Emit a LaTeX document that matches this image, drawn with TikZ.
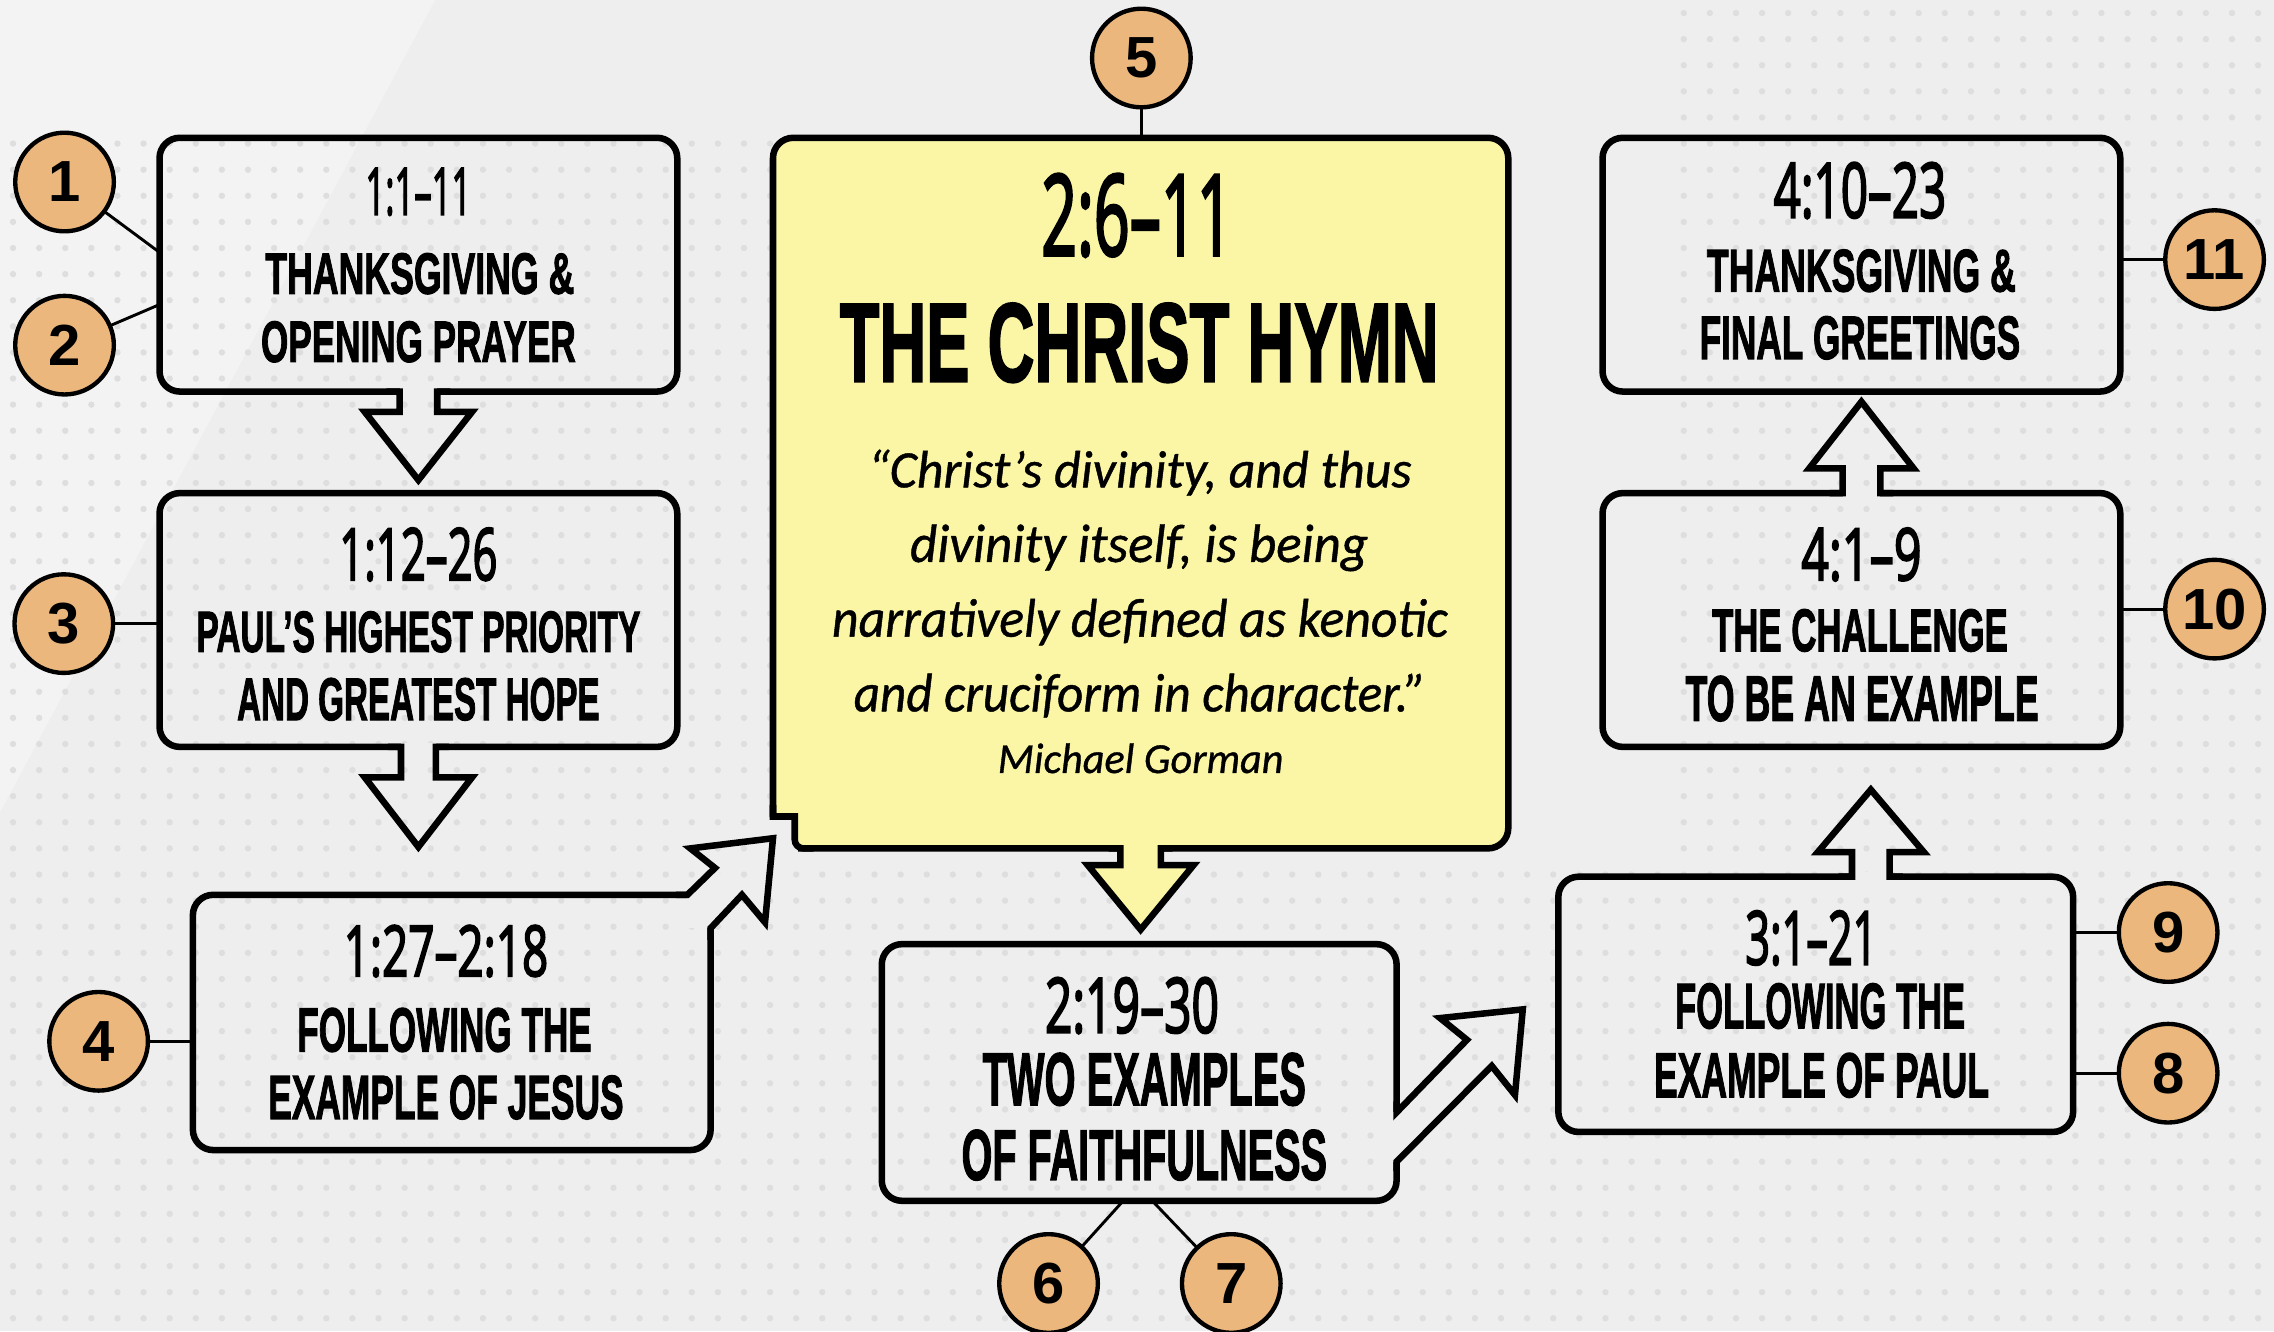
\documentclass[tikz,border=0pt]{standalone}
\usepackage{fontspec}
\usepackage{graphicx}
\usetikzlibrary{calc}
\newfontfamily\capsfont[FakeBold=2]{Liberation Sans}
\newfontfamily\numfont[FakeBold=3]{Open Sans}
\newfontfamily\quotefont[FakeBold=0.8]{Carlito}
\newfontfamily\circfont{Liberation Sans}
\definecolor{bgcol}{HTML}{EEEEEE}
\definecolor{dotcol}{HTML}{DEDEDE}
\definecolor{hymncol}{HTML}{FAF6A6}
\definecolor{badgecol}{HTML}{ECB77C}
\newcommand\fitnum[3]{\resizebox{#1pt}{#2pt}{\numfont #3}}
\newcommand\fitcap[3]{\resizebox{#1pt}{#2pt}{\capsfont\bfseries #3}}
\newcommand\fitquote[3]{\resizebox{#1pt}{#2pt}{\quotefont\itshape\fontsize{35}{35}\selectfont #3}}
\begin{document}
\begin{tikzpicture}[x=1pt,y=-1pt,
  frame/.style={draw=black,line width=4.5pt,rounded corners=14pt,inner sep=0pt,outer sep=0pt},
  arrowline/.style={draw=black,line width=4.5pt,line join=miter},
  badge/.style={circle,draw=black,line width=3pt,fill=badgecol,minimum size=68pt,inner sep=0pt,outer sep=0pt,font=\circfont\bfseries\fontsize{40}{40}\selectfont},
  link/.style={draw=black,line width=2pt},
  txt/.style={anchor=base,inner sep=0pt,outer sep=0pt}]
% background
\useasboundingbox (0,0) rectangle (1568,918);
\fill[bgcol] (0,0) rectangle (1568,918);
\fill[white,opacity=0.35] (0,0) -- (300,0) -- (0,560) -- cycle;
\foreach \x in {9,27,...,531} \foreach \y in {99,117,...,909} \fill[dotcol] (\x,\y) circle[radius=2.2pt];
\foreach \x in {549,567,...,1143} \foreach \y in {603,621,...,909} \fill[dotcol] (\x,\y) circle[radius=2.2pt];
\foreach \x in {1161,1179,...,1557} \foreach \y in {9,27,...,909} \fill[dotcol] (\x,\y) circle[radius=2.2pt];
% boxes
\node[frame,fill=hymncol,minimum width=507pt,minimum height=490pt] (Y) at (786.5,340) {};
\node[frame,minimum width=357pt,minimum height=175pt] (A) at (288.5,182.5) {};
\node[frame,minimum width=357pt,minimum height=175pt] (B) at (288.5,427.5) {};
\node[frame,minimum width=357pt,minimum height=176pt] (C) at (311.5,705) {};
\node[frame,minimum width=355pt,minimum height=177pt] (D) at (785.5,739.5) {};
\node[frame,minimum width=355pt,minimum height=176pt] (E) at (1252,692.5) {};
\node[frame,minimum width=357pt,minimum height=175pt] (F) at (1283.5,427.5) {};
\node[frame,minimum width=357pt,minimum height=175pt] (G) at (1283.5,182.5) {};
% notch of the hymn box
\begin{scope}[shift={(Y.south west)}]
 \fill[bgcol] (-4,-22) rectangle (17.25,5);
 \draw[arrowline] (0,-30) -- (0,-22) -- (15,-22) -- (15,-6) .. controls (15,-2.7) and (17.7,0) .. (21,0) -- (28,0);
\end{scope}
% A -> B
\begin{scope}[shift={(A.south)}]
 \fill[bgcol] (-13,-3) rectangle (13,3);
 \draw[arrowline] (-22,0) -- (-13,0) -- (-13,14) -- (-37,14) -- (0,61) -- (37,14) -- (13,14) -- (13,0) -- (22,0);
\end{scope}
% B -> C
\begin{scope}[shift={(B.south)}]
 \fill[bgcol] (-12,-3) rectangle (12,3);
 \draw[arrowline] (-21,0) -- (-12,0) -- (-12,21) -- (-37,21) -- (0,69) -- (37,21) -- (12,21) -- (12,0) -- (21,0);
\end{scope}
% C -> Y
\begin{scope}[shift={(C.north east)}]
 \fill[bgcol] (-16,-2) rectangle (0,23);
 \fill[bgcol] (-16,0) -- (3,-18.5) -- (21.6,0) -- (0,23) -- cycle;
 \draw[arrowline] (-24,0) -- (-16,0) -- (3,-18.5) -- (-14,-32) -- (43,-39) -- (37.5,19) -- (21.6,0) -- (0,23) -- (0,31);
\end{scope}
% Y -> D
\begin{scope}[shift={(Y.south)}]
 \fill[hymncol] (-14,-3) rectangle (14,3);
 \draw[arrowline,fill=hymncol] (-22,0) -- (-14,0) -- (-14,11.5) -- (-36.5,11.5) -- (0,56) -- (36.5,11.5) -- (14,11.5) -- (14,0) -- (22,0);
\end{scope}
% D -> E
\begin{scope}[shift={(D.east)}]
 \fill[bgcol] (-3,27.5) rectangle (3,61.5);
 \draw[arrowline] (0,20) -- (0,27.5) -- (48.5,-22.5) -- (30,-37.5) -- (87,-43.5) -- (81.6,15.5) -- (65.6,-4.5) -- (0,61.5) -- (0,68);
\end{scope}
% E -> F
\begin{scope}[shift={(E.north)}]
 \fill[bgcol] (25,-3) rectangle (51,3);
 \draw[arrowline] (16,0) -- (25,0) -- (25,-17) -- (1.5,-17) -- (38,-60) -- (74.5,-17) -- (51,-17) -- (51,0) -- (60,0);
\end{scope}
% F -> G
\begin{scope}[shift={(F.north)}]
 \fill[bgcol] (-13,-3) rectangle (13,3);
 \draw[arrowline] (-22,0) -- (-13,0) -- (-13,-17) -- (-36,-17) -- (0,-63) -- (36,-17) -- (13,-17) -- (13,0) -- (22,0);
\end{scope}
% texts
\node[txt] (A0) at (288.5,148) {\fitnum{73}{32}{1:1–11}};
\node[txt] (A1) at (289.5,202.5) {\fitcap{213}{28}{THANKSGIVING \&}};
\node[txt] (A2) at (288.5,249.5) {\fitcap{217}{28}{OPENING PRAYER}};
\node[txt] (B0) at (288.5,400) {\fitnum{109}{36}{1:12–26}};
\node[txt] (B1) at (288.5,449.5) {\fitcap{306}{28}{PAUL’S HIGHEST PRIORITY}};
\node[txt] (B2) at (288.5,496.5) {\fitcap{250}{29}{AND GREATEST HOPE}};
\node[txt] (C0) at (307.5,673) {\fitnum{141}{35}{1:27–2:18}};
\node[txt] (C1) at (306.5,725) {\fitcap{203}{30}{FOLLOWING THE}};
\node[txt] (C2) at (307.5,771.5) {\fitcap{245}{30}{EXAMPLE OF JESUS}};
\node[txt] (Y0) at (784,176) {\fitnum{132}{56}{2:6–11}};
\node[txt] (Y1) at (785.5,263) {\fitcap{413}{54}{THE CHRIST HYMN}};
\node[txt] (Q1) at (786,336) {\fitquote{375}{26}{“Christ’s divinity, and thus}};
\node[txt] (Q2) at (785.5,387.5) {\fitquote{316}{26}{divinity itself, is being}};
\node[txt] (Q3) at (786,439) {\fitquote{424.6}{26}{narratively defined as kenotic}};
\node[txt] (Q4) at (786,490.5) {\fitquote{394.6}{26}{and cruciform in character.”}};
\node[txt] (Q5) at (786.5,533) {\fitquote{197}{20.5}{Michael Gorman}};
\node[txt] (D0) at (780.5,712) {\fitnum{120}{38}{2:19–30}};
\node[txt] (D1) at (789,762) {\fitcap{223}{36}{TWO EXAMPLES}};
\node[txt] (D2) at (789,813.5) {\fitcap{252}{34.5}{OF FAITHFULNESS}};
\node[txt] (E0) at (1249,665) {\fitnum{91}{37}{3:1–21}};
\node[txt] (E1) at (1255,709) {\fitcap{200}{31}{FOLLOWING THE}};
\node[txt] (E2) at (1256,756.5) {\fitcap{231}{30.5}{EXAMPLE OF PAUL}};
\node[txt] (F0) at (1283.5,400) {\fitnum{83}{36}{4:1–9}};
\node[txt] (F1) at (1282.5,449) {\fitcap{204}{29}{THE CHALLENGE}};
\node[txt] (F2) at (1284,497) {\fitcap{243.5}{31}{TO BE AN EXAMPLE}};
\node[txt] (G0) at (1282.5,150) {\fitnum{119}{38}{4:10–23}};
\node[txt] (G1) at (1283.5,201) {\fitcap{213}{29}{THANKSGIVING \&}};
\node[txt] (G2) at (1282.5,247.5) {\fitcap{221}{29.5}{FINAL GREETINGS}};
% numbered badges
\node[badge] (n1) at (44.5,125.5) {1};
\node[badge] (n2) at (44.5,238) {2};
\node[badge] (n3) at (44,430) {3};
\node[badge] (n4) at (68,718) {4};
\node[badge] (n5) at (787,40) {5};
\node[badge] (n6) at (723,885) {6};
\node[badge] (n7) at (849,885) {7};
\node[badge] (n8) at (1495,740) {8};
\node[badge] (n9) at (1495,643) {9};
\node[badge] (n10) at (1527,420) {10};
\node[badge] (n11) at (1527,179) {11};
\draw[link] (n1) -- ($(A.north west)+(0,79)$);
\draw[link] (n2) -- ($(A.north west)+(0,115)$);
\draw[link] (n3) -- (n3 -| B.west);
\draw[link] (n4) -- (n4 -| C.west);
\draw[link] (n5) -- (n5 |- Y.north);
\draw[link] (n6) -- ($(D.south)+(-11,0)$);
\draw[link] (n7) -- ($(D.south)+(9,0)$);
\draw[link] (n8) -- (n8 -| E.east);
\draw[link] (n9) -- (n9 -| E.east);
\draw[link] (n10) -- (n10 -| F.east);
\draw[link] (n11) -- (n11 -| G.east);
\end{tikzpicture}
\end{document}
